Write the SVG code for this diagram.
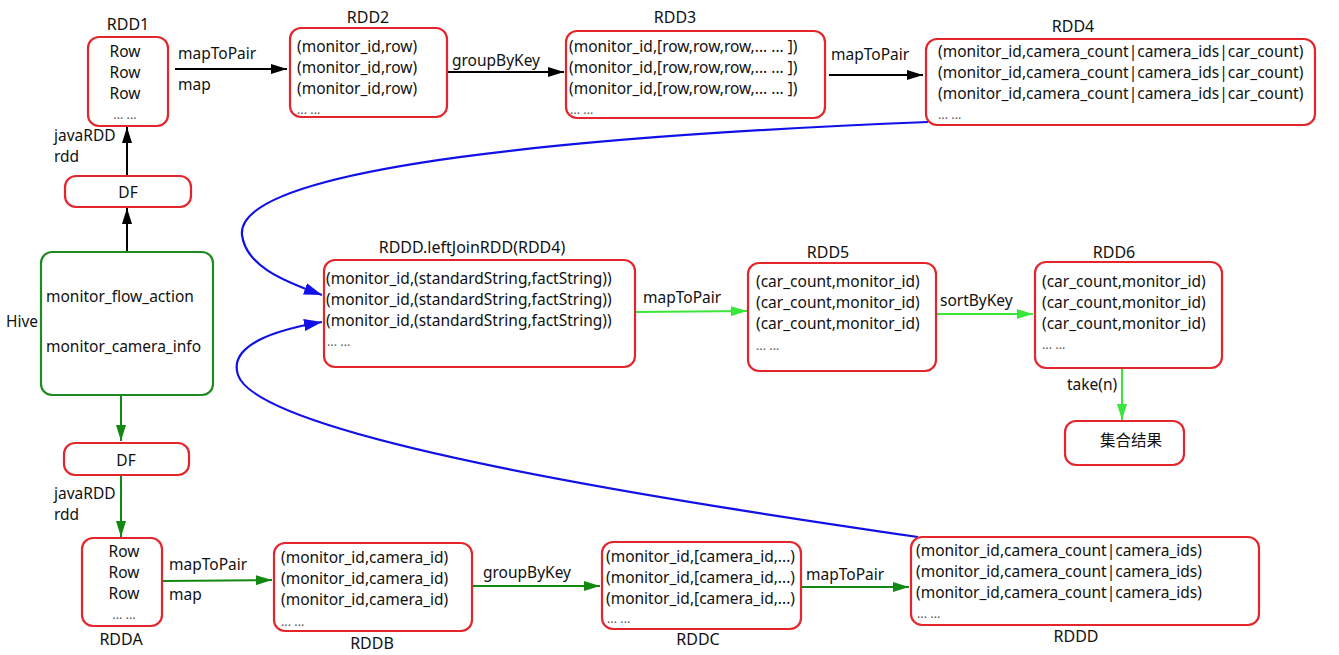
<svg xmlns="http://www.w3.org/2000/svg" width="1339" height="655" viewBox="0 0 1339 655">
<style>
text{font-family:"Noto Sans","Noto Sans CJK SC",sans-serif;fill:#111}
.t{font-size:15.5px}
.lb{font-size:16px}
.el{font-size:12.5px;fill:#555}
.c{text-anchor:middle}
.box{fill:#fff;stroke:#e4262c;stroke-width:2.2}
.gbox{fill:#fff;stroke:#1f8a1f;stroke-width:2.2}
.k{stroke:#000;stroke-width:2;fill:none}
.dg{stroke:#118811;stroke-width:2;fill:none}
.lg{stroke:#3ae63a;stroke-width:2;fill:none}
.bl{stroke:#1010e8;stroke-width:2.2;fill:none}
</style>
<defs>
<marker id="mk" viewBox="0 0 16 10" refX="16" refY="5" markerWidth="16" markerHeight="10" markerUnits="userSpaceOnUse" orient="auto"><path d="M0,0 L16,5 L0,10 Z" fill="#000"/></marker>
<marker id="mdg" viewBox="0 0 16 10" refX="16" refY="5" markerWidth="16" markerHeight="10" markerUnits="userSpaceOnUse" orient="auto"><path d="M0,0 L16,5 L0,10 Z" fill="#118811"/></marker>
<marker id="mlg" viewBox="0 0 16 10" refX="16" refY="5" markerWidth="16" markerHeight="10" markerUnits="userSpaceOnUse" orient="auto"><path d="M0,0 L16,5 L0,10 Z" fill="#3ae63a"/></marker>
<marker id="mbl" viewBox="0 0 18 12" refX="18" refY="6" markerWidth="18" markerHeight="12" markerUnits="userSpaceOnUse" orient="auto"><path d="M0,0 L18,6 L0,12 Z" fill="#1010e8"/></marker>
</defs>

<g id="connectors">
<line class="k" x1="127" y1="252" x2="127" y2="208" marker-end="url(#mk)"/>
<line class="k" x1="127" y1="176" x2="127" y2="127" marker-end="url(#mk)"/>
<line class="k" x1="175" y1="69" x2="287" y2="69" marker-end="url(#mk)"/>
<line class="k" x1="448" y1="72" x2="564" y2="72" marker-end="url(#mk)"/>
<line class="k" x1="829" y1="75" x2="923" y2="75" marker-end="url(#mk)"/>
<line class="dg" x1="121" y1="395" x2="121" y2="441" marker-end="url(#mdg)"/>
<line class="dg" x1="121" y1="476" x2="121" y2="537" marker-end="url(#mdg)"/>
<line class="dg" x1="163" y1="581" x2="272" y2="580" marker-end="url(#mdg)"/>
<line class="dg" x1="473" y1="586" x2="600" y2="586" marker-end="url(#mdg)"/>
<line class="dg" x1="802" y1="587" x2="909" y2="587" marker-end="url(#mdg)"/>
<line class="lg" x1="636" y1="312" x2="747" y2="311" marker-end="url(#mlg)"/>
<line class="lg" x1="937" y1="314" x2="1033" y2="314" marker-end="url(#mlg)"/>
<line class="lg" x1="1122" y1="369" x2="1122" y2="420" marker-end="url(#mlg)"/>
<path class="bl" d="M928,122 C600,135 235,165 242,235 C246,265 280,280 322,295" marker-end="url(#mbl)"/>
<path class="bl" d="M918,537 C700,505 260,440 238,375 C228,345 275,330 322,322" marker-end="url(#mbl)"/>
<text class="t" x="178" y="59">mapToPair</text>
<text class="t" x="178" y="90">map</text>
<text class="t" x="452" y="66">groupByKey</text>
<text class="t" x="831" y="60">mapToPair</text>
<text class="t" x="54" y="141">javaRDD</text>
<text class="t" x="54" y="162">rdd</text>
<text class="t" x="54" y="499">javaRDD</text>
<text class="t" x="54" y="520">rdd</text>
<text class="t" x="169" y="570">mapToPair</text>
<text class="t" x="169" y="600">map</text>
<text class="t" x="483" y="578">groupByKey</text>
<text class="t" x="806" y="580">mapToPair</text>
<text class="t" x="643" y="303">mapToPair</text>
<text class="t" x="940" y="306">sortByKey</text>
<text class="t" x="1067" y="390">take(n)</text>
</g>

<g id="rdd1">
<text class="lb c" x="128" y="30">RDD1</text>
<rect class="box" x="88" y="37" width="80" height="89" rx="11"/>
<text class="t c" x="125" y="57">Row</text>
<text class="t c" x="125" y="78">Row</text>
<text class="t c" x="125" y="99">Row</text>
<text class="el c" x="125" y="119">... ...</text>
</g>

<g id="rdd2">
<text class="lb c" x="368" y="23">RDD2</text>
<rect class="box" x="290" y="28" width="157" height="89" rx="11"/>
<text class="t" x="297" y="52">(monitor_id,row)</text>
<text class="t" x="297" y="73">(monitor_id,row)</text>
<text class="t" x="297" y="94">(monitor_id,row)</text>
<text class="el" x="297" y="114">... ...</text>
</g>

<g id="rdd3">
<text class="lb c" x="675" y="23">RDD3</text>
<rect class="box" x="566" y="31" width="259" height="87" rx="11"/>
<text class="t" x="569" y="52">(monitor_id,[row,row,row,... ... ])</text>
<text class="t" x="569" y="73">(monitor_id,[row,row,row,... ... ])</text>
<text class="t" x="569" y="94">(monitor_id,[row,row,row,... ... ])</text>
<text class="el" x="570" y="114">... ...</text>
</g>

<g id="rdd4">
<text class="lb c" x="1073" y="32">RDD4</text>
<rect class="box" x="926" y="39" width="389" height="86" rx="11"/>
<text class="t" x="938" y="57">(monitor_id,camera_count|camera_ids|car_count)</text>
<text class="t" x="938" y="78">(monitor_id,camera_count|camera_ids|car_count)</text>
<text class="t" x="938" y="99">(monitor_id,camera_count|camera_ids|car_count)</text>
<text class="el" x="938" y="119">... ...</text>
</g>

<g id="df-top">
<rect class="box" x="65" y="176" width="126" height="31" rx="11"/>
<text class="t c" x="128" y="198">DF</text>
</g>

<g id="hive">
<text class="t" x="6" y="327">Hive</text>
<rect class="gbox" x="41" y="252" width="172" height="143" rx="11"/>
<text class="t" x="46" y="302">monitor_flow_action</text>
<text class="t" x="46" y="352">monitor_camera_info</text>
</g>

<g id="df-bottom">
<rect class="box" x="64" y="443" width="125" height="32" rx="11"/>
<text class="t c" x="126" y="466">DF</text>
</g>

<g id="leftjoin">
<text class="lb c" x="472" y="253">RDDD.leftJoinRDD(RDD4)</text>
<rect class="box" x="324" y="260" width="311" height="107" rx="11"/>
<text class="t" x="326" y="284">(monitor_id,(standardString,factString))</text>
<text class="t" x="326" y="305">(monitor_id,(standardString,factString))</text>
<text class="t" x="326" y="326">(monitor_id,(standardString,factString))</text>
<text class="el" x="327" y="346">... ...</text>
</g>

<g id="rdd5">
<text class="lb c" x="828" y="258">RDD5</text>
<rect class="box" x="748" y="263" width="188" height="108" rx="11"/>
<text class="t" x="756" y="287">(car_count,monitor_id)</text>
<text class="t" x="756" y="308">(car_count,monitor_id)</text>
<text class="t" x="756" y="329">(car_count,monitor_id)</text>
<text class="el" x="756" y="350">... ...</text>
</g>

<g id="rdd6">
<text class="lb c" x="1114" y="258">RDD6</text>
<rect class="box" x="1035" y="262" width="187" height="106" rx="11"/>
<text class="t" x="1042" y="287">(car_count,monitor_id)</text>
<text class="t" x="1042" y="308">(car_count,monitor_id)</text>
<text class="t" x="1042" y="329">(car_count,monitor_id)</text>
<text class="el" x="1042" y="349">... ...</text>
</g>

<g id="result">
<rect class="box" x="1065" y="421" width="119" height="44" rx="11"/>
<text class="t" x="1100" y="446">集合结果</text>
</g>

<g id="rdda">
<rect class="box" x="82" y="538" width="80" height="88" rx="11"/>
<text class="t c" x="124" y="557">Row</text>
<text class="t c" x="124" y="578">Row</text>
<text class="t c" x="124" y="599">Row</text>
<text class="el c" x="124" y="619">... ...</text>
<text class="lb c" x="121" y="645">RDDA</text>
</g>

<g id="rddb">
<rect class="box" x="274" y="543" width="198" height="88" rx="11"/>
<text class="t" x="281" y="563">(monitor_id,camera_id)</text>
<text class="t" x="281" y="584">(monitor_id,camera_id)</text>
<text class="t" x="281" y="605">(monitor_id,camera_id)</text>
<text class="el" x="281" y="626">... ...</text>
<text class="lb c" x="372" y="649">RDDB</text>
</g>

<g id="rddc">
<rect class="box" x="602" y="542" width="199" height="87" rx="11"/>
<text class="t" x="606" y="562">(monitor_id,[camera_id,...)</text>
<text class="t" x="606" y="583">(monitor_id,[camera_id,...)</text>
<text class="t" x="606" y="604">(monitor_id,[camera_id,...)</text>
<text class="el" x="607" y="623">... ...</text>
<text class="lb c" x="698" y="645">RDDC</text>
</g>

<g id="rddd">
<rect class="box" x="911" y="537" width="348" height="88" rx="11"/>
<text class="t" x="916" y="556">(monitor_id,camera_count|camera_ids)</text>
<text class="t" x="916" y="577">(monitor_id,camera_count|camera_ids)</text>
<text class="t" x="916" y="598">(monitor_id,camera_count|camera_ids)</text>
<text class="el" x="917" y="618">... ...</text>
<text class="lb c" x="1076" y="642">RDDD</text>
</g>
</svg>
